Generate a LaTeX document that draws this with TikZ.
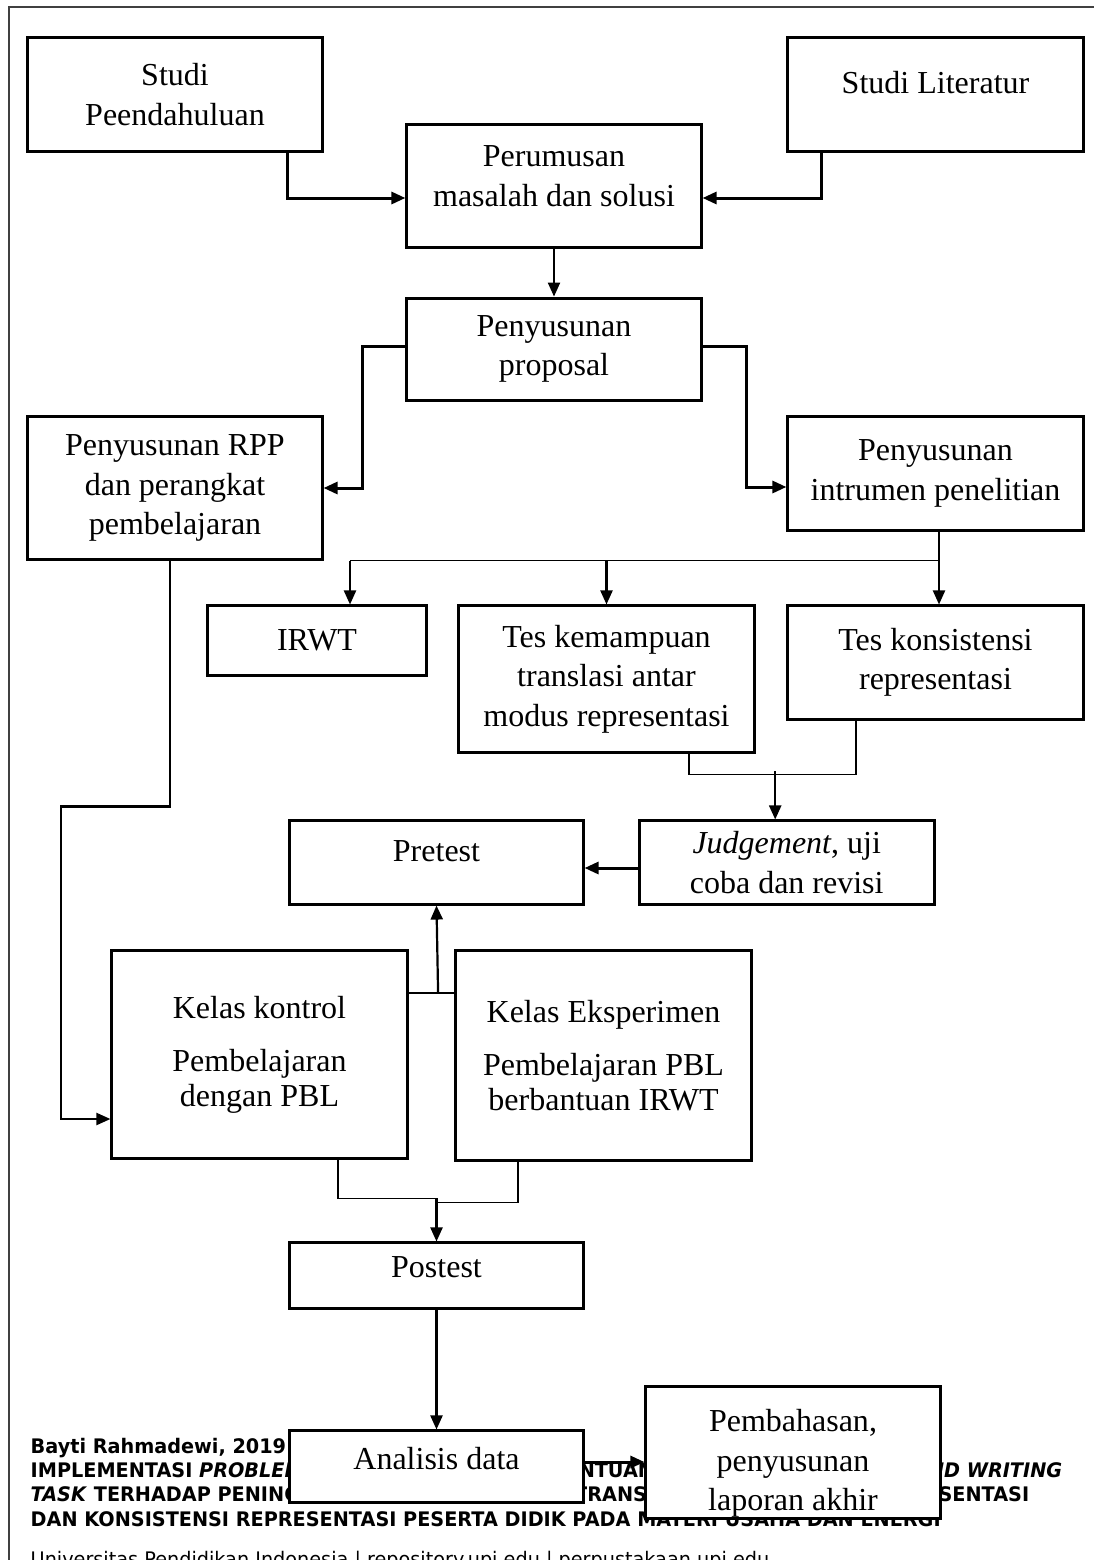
\documentclass[tikz,border=0pt]{standalone}
\usepackage{fontspec}
\setmainfont{Liberation Serif}
\newfontfamily\kakifont[FakeStretch=0.96]{DejaVu Sans}
\usetikzlibrary{positioning, arrows.meta, calc}

\begin{document}
\begin{tikzpicture}[
		% 1 satuan = 1 piksel gambar acuan, sumbu y ke bawah
		x=0.01cm, y=-0.01cm,
		% Gaya kotak tahapan
		kotak/.style={draw=black, fill=white, line width=0.03cm, rectangle, inner sep=0pt, align=center, font=\fontsize{9.1}{11.2}\selectfont},
		% Gaya garis penghubung
		panah/.style={-{Triangle[length=0.14cm, width=0.12cm]}, line width=0.022cm, draw=black},
		garis/.style={line width=0.012cm, draw=black},
		% Bingkai halaman dan kaki halaman
		bingkai/.style={line width=0.025cm, draw=black!75},
		kaki/.style={anchor=base west, inner sep=0pt, font=\kakifont\bfseries\fontsize{5.7}{6}\selectfont},
		kaki_biasa/.style={anchor=base west, inner sep=0pt, font=\kakifont\fontsize{5.7}{6}\selectfont}
		]
		
		\useasboundingbox (0,0) rectangle (1094,1560);
		\draw[bingkai] (9,1600) -- (9,7) -- (1200,7);
		
		% --- KAKI HALAMAN (di bawah kotak) ---
		\node[kaki] (penulis) at (30,1453) {Bayti Rahmadewi, 2019};
		\node[kaki] (judul1) at (30,1477) {IMPLEMENTASI \textit{PROBLEM BASED LEARNING} BERBANTUAN \textit{INTERACTIVE READING AND WRITING}};
		\node[kaki] (judul2) at (30,1501) {\textit{TASK} TERHADAP PENINGKATAN KEMAMPUAN MENTRANSLASI ANTAR MODUS REPRESENTASI};
		\node[kaki] (judul3) at (30,1526) {DAN KONSISTENSI REPRESENTASI PESERTA DIDIK PADA MATERI USAHA DAN ENERGI};
		\node[kaki_biasa] (sumber) at (30,1566) {Universitas Pendidikan Indonesia | repository.upi.edu | perpustakaan.upi.edu};
		
		% --- TAHAP PERSIAPAN ---
		\node[kotak, minimum width=2.94cm, minimum height=1.13cm] (pendahuluan) at (175,94.5) {Studi\\Peendahuluan};
		\node[kotak, minimum width=2.95cm, minimum height=1.13cm, text depth=0.24cm] (literatur) at (935.5,94.5) {Studi Literatur};
		\node[kotak, minimum width=2.94cm, minimum height=1.22cm, text depth=0.2cm] (perumusan) at (554,186) {Perumusan\\masalah dan solusi};
		\node[kotak, minimum width=2.94cm, minimum height=1.02cm, below=0.48cm of perumusan] (proposal) {Penyusunan\\proposal};
		\node[kotak, minimum width=2.94cm, minimum height=1.42cm] (rpp) at (175,488) {Penyusunan RPP\\dan perangkat\\pembelajaran};
		\node[kotak, minimum width=2.95cm, minimum height=1.13cm] (instrumen) at (935.5,473.5) {Penyusunan\\intrumen penelitian};
		
		% --- INSTRUMEN ---
		\node[kotak, minimum width=2.18cm, minimum height=0.69cm] (irwt) at (317,640.5) {IRWT};
		\node[kotak, minimum width=2.95cm, minimum height=1.46cm] (translasi) at (606.5,679) {Tes kemampuan\\translasi antar\\modus representasi};
		\node[kotak, minimum width=2.95cm, minimum height=1.13cm] (konsistensi) at (935.5,662.5) {Tes konsistensi\\representasi};
		\node[kotak, minimum width=2.93cm, minimum height=0.83cm, text depth=0.22cm] (pretest) at (436.5,862.5) {Pretest};
		\node[kotak, minimum width=2.95cm, minimum height=0.83cm, right=0.53cm of pretest] (judgement) {\textit{Judgement}, uji\\coba dan revisi};
		
		% --- PELAKSANAAN ---
		\node[kotak, minimum width=2.95cm, minimum height=2.07cm] (kontrol) at (259.5,1054.5) {Kelas kontrol\\[0.14cm]Pembelajaran\\[-0.05cm]dengan PBL};
		\node[kotak, minimum width=2.95cm, minimum height=2.09cm] (eksperimen) at (603.5,1055.5) {Kelas Eksperimen\\[0.14cm]Pembelajaran PBL\\[-0.05cm]berbantuan IRWT};
		\node[kotak, minimum width=2.93cm, minimum height=0.65cm, text depth=0.16cm] (postest) at (436.5,1275.5) {Postest};
		\node[kotak, minimum width=2.94cm, minimum height=0.71cm, text depth=0.16cm] (analisis) at (436.5,1466.5) {Analisis data};
		\node[kotak, minimum width=2.94cm, minimum height=1.31cm] (pembahasan) at (793,1452.5) {\rule{0pt}{0.44cm}Pembahasan,\\penyusunan\\laporan akhir};
		
		% --- PENGHUBUNG ---
		% 1. Studi awal ke perumusan masalah
		\draw[panah, line width=0.03cm] ($(pendahuluan.south)+(112,0)$) |- ($(perumusan.west)+(0,12)$);
		\draw[panah, line width=0.03cm] ($(literatur.south)+(-114.5,0)$) |- ($(perumusan.east)+(0,12)$);
		\draw[panah] (perumusan) -- (proposal);
		
		% 2. Proposal bercabang ke RPP dan instrumen
		\draw[panah, line width=0.03cm] ($(proposal.west)+(0,-3)$) -- ++(-43,0) |- (rpp.east);
		\draw[panah, line width=0.03cm] ($(proposal.east)+(0,-3)$) -- ++(44,0) |- ($(instrumen.west)+(0,13.5)$);
		
		% 3. Instrumen ke tiga jenis tes
		\coordinate (cabang) at ($(instrumen.south)+(3.5,29)$);
		\coordinate (kiri) at ($(irwt.north)+(33,0)$);
		\draw[garis] (cabang) -- (kiri |- cabang);
		\draw[panah] (instrumen.south -| cabang) -- (konsistensi.north -| cabang);
		\draw[panah] (kiri |- cabang) -- (kiri);
		\draw[panah] (translasi.north |- cabang) -- (translasi.north);
		
		% 4. Tes ke judgement, lalu pretest
		\draw[garis] ($(translasi.south)+(82.5,0)$) |- ($(konsistensi.south)+(-79.5,54)$) -- ($(konsistensi.south)+(-79.5,0)$);
		\draw[panah] ($(judgement.north)+(-11.5,-48)$) -- ($(judgement.north)+(-11.5,0)$);
		\draw[panah, line width=0.03cm] ($(judgement.west)+(0,5.5)$) -- ($(pretest.east)+(0,5.5)$);
		
		% 5. RPP ke kelas kontrol
		\draw[panah] ($(rpp.south)+(-5,0)$) -- ++(0,246) -- ++(-109,0) |- ($(kontrol.west)+(0,64.5)$);
		
		% 6. Kedua kelas ke pretest dan postest
		\draw[garis] ($(kontrol.east)+(0,-61.5)$) -- ($(eksperimen.west)+(0,-62.5)$);
		\draw[panah] ($(kontrol.east)+(29.5,-61.5)$) -- (pretest.south);
		\draw[garis] ($(kontrol.south)+(78.5,0)$) |- ($(postest.north)+(0,-43)$);
		\draw[garis] ($(eksperimen.south)+(-85.5,0)$) |- ($(postest.north)+(0,-39)$);
		\draw[panah] ($(postest.north)+(0,-43)$) -- (postest.north);
		
		% 7. Analisis dan pembahasan
		\draw[panah] (postest) -- (analisis);
		\draw[panah, line width=0.03cm] ($(analisis.east)+(0,-4.5)$) -- ($(pembahasan.west)+(0,9.5)$);
		
	\end{tikzpicture}
\end{document}
